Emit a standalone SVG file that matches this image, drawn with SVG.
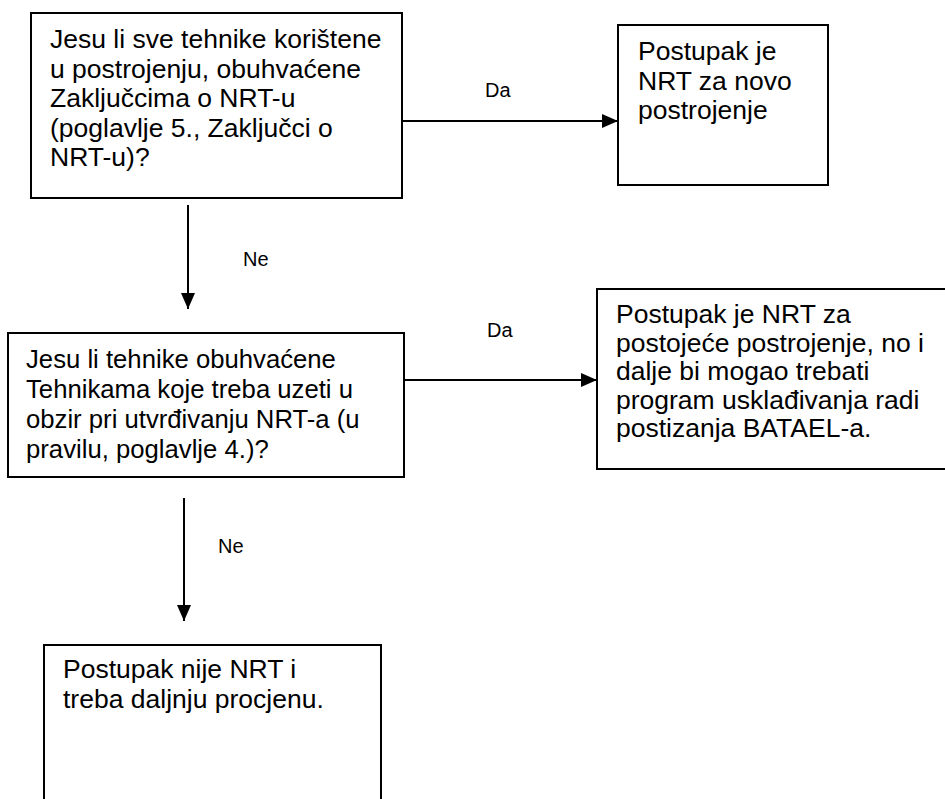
<svg xmlns="http://www.w3.org/2000/svg" width="945" height="799" viewBox="0 0 945 799">
<defs>
<style>
.box{fill:#fff;stroke:#000;stroke-width:2}
.t{font-family:"Liberation Sans",Arial,sans-serif;font-size:26.5px;fill:#000}
.t2{font-family:"Liberation Sans",Arial,sans-serif;font-size:25.7px;fill:#000}
.lbl{font-family:"Liberation Sans",Arial,sans-serif;font-size:20px;fill:#000}
.c{stroke:#000;stroke-width:2;fill:none}
</style>
<marker id="ah" markerWidth="16" markerHeight="16" refX="16" refY="8" orient="auto" markerUnits="userSpaceOnUse">
<path d="M0,1 L16,8 L0,15 Z" fill="#000"/>
</marker>
</defs>
<rect width="945" height="799" fill="#fff"/>
<g id="connectors">
<line class="c" x1="402" y1="121" x2="618" y2="121" marker-end="url(#ah)"/>
<text class="lbl" x="485" y="97">Da</text>
<line class="c" x1="188" y1="205" x2="188" y2="309" marker-end="url(#ah)"/>
<text class="lbl" x="243" y="266">Ne</text>
<line class="c" x1="403" y1="380" x2="597" y2="380" marker-end="url(#ah)"/>
<text class="lbl" x="487" y="337">Da</text>
<line class="c" x1="184" y1="498" x2="184" y2="621" marker-end="url(#ah)"/>
<text class="lbl" x="218" y="553">Ne</text>
</g>
<g id="q1">
<rect class="box" x="31" y="13" width="371" height="185"/>
<text class="t" x="50" y="48">Jesu li sve tehnike korištene</text>
<text class="t" x="50" y="77.5">u postrojenju, obuhvaćene</text>
<text class="t" x="50" y="107">Zaključcima o NRT-u</text>
<text class="t" x="50" y="136.5">(poglavlje 5., Zaključci o</text>
<text class="t" x="50" y="166">NRT-u)?</text>
</g>
<g id="r1">
<rect class="box" x="618" y="25" width="210" height="160"/>
<text class="t" x="638" y="60">Postupak je</text>
<text class="t" x="638" y="89.5">NRT za novo</text>
<text class="t" x="638" y="119">postrojenje</text>
</g>
<g id="q2">
<rect class="box" x="8" y="333" width="396" height="144"/>
<text class="t2" x="26" y="368">Jesu li tehnike obuhvaćene</text>
<text class="t2" x="26" y="398">Tehnikama koje treba uzeti u</text>
<text class="t2" x="26" y="428">obzir pri utvrđivanju NRT-a (u</text>
<text class="t2" x="26" y="458">pravilu, poglavlje 4.)?</text>
</g>
<g id="r2">
<rect class="box" x="597" y="289" width="370" height="180"/>
<text class="t" x="616" y="323">Postupak je NRT za</text>
<text class="t" x="616" y="351.5">postojeće postrojenje, no i</text>
<text class="t" x="616" y="380">dalje bi mogao trebati</text>
<text class="t" x="616" y="408.5">program usklađivanja radi</text>
<text class="t" x="616" y="437">postizanja BATAEL-a.</text>
</g>
<g id="r3">
<rect class="box" x="44" y="645" width="337" height="170"/>
<text class="t" x="63" y="678">Postupak nije NRT i</text>
<text class="t" x="63" y="708">treba daljnju procjenu.</text>
</g>
</svg>
